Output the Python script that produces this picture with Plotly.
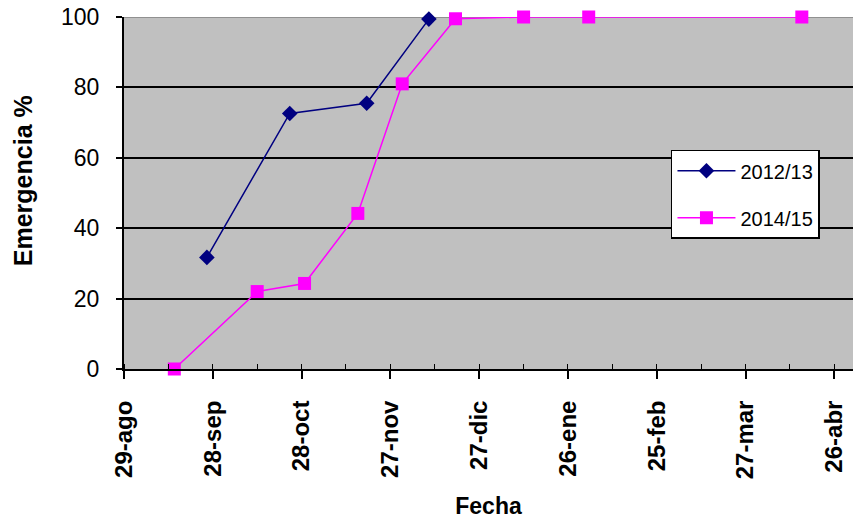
import plotly.graph_objects as go

# Data
fechas_1213 = ["2014-09-26", "2014-10-24", "2014-11-19", "2014-12-10"]
emerg_1213 = [31.7, 72.6, 75.5, 99.4]

fechas_1415 = ["2014-09-15", "2014-10-13", "2014-10-29", "2014-11-16", "2014-12-01",
               "2014-12-19", "2015-01-11", "2015-02-02", "2015-04-15"]
emerg_1415 = [0.0, 22.0, 24.3, 44.2, 81.0, 99.5, 100.0, 100.0, 100.0]

tick_vals = ["2014-08-29", "2014-09-28", "2014-10-28", "2014-11-27", "2014-12-27",
             "2015-01-26", "2015-02-25", "2015-03-27", "2015-04-26"]
tick_text = ["29-ago", "28-sep", "28-oct", "27-nov", "27-dic",
             "26-ene", "25-feb", "27-mar", "26-abr"]
y_ticks = [0, 20, 40, 60, 80, 100]

FONT = "Liberation Sans, Arial, sans-serif"

fig = go.Figure()
fig.add_trace(go.Scatter(
    x=fechas_1213, y=emerg_1213, mode="lines+markers", name="2012/13",
    legendgroup="a", cliponaxis=False,
    line=dict(color="#000080", width=1.5),
    marker=dict(symbol="diamond", size=12, color="#000080"),
))
fig.add_trace(go.Scatter(
    x=fechas_1415, y=emerg_1415, mode="lines+markers", name="2014/15",
    legendgroup="b", cliponaxis=False,
    line=dict(color="#FF00FF", width=1.5),
    marker=dict(symbol="square", size=13, color="#FF00FF"),
))

fig.add_shape(type="line", xref="paper", yref="y", x0=0, x1=1, y0=100, y1=100,
              line=dict(color="#808080", width=1.5), layer="between")

# y-axis title as annotation (placed slightly above axis centre as in the reference)
fig.add_annotation(text="Emergencia %", xref="paper", yref="paper",
                   x=-(124 - 22.5) / 729, y=(369.3 - 181) / 352,
                   xanchor="center", yanchor="middle", textangle=-90, showarrow=False,
                   font=dict(size=25, family=FONT, color="black", weight="bold"))

fig.update_layout(
    width=853, height=519,
    margin=dict(l=124, r=0, t=17, b=150),
    paper_bgcolor="white",
    plot_bgcolor="#C0C0C0",
    font=dict(family=FONT, color="black"),
    showlegend=True,
    legend=dict(
        x=0.7503, xanchor="left", y=0.623, yanchor="top",
        bgcolor="white", bordercolor="black", borderwidth=1.5,
        font=dict(size=20, family=FONT, color="black"),
        tracegroupgap=18,
        itemwidth=58,
    ),
    xaxis=dict(
        type="date",
        automargin=False,
        range=["2014-08-29", "2015-05-02 07:00"],
        tickmode="array", tickvals=tick_vals, ticktext=tick_text,
        tickangle=-90,
        tickfont=dict(size=24, family=FONT, color="black", weight="bold"),
        ticks="outside", ticklen=8, tickwidth=1.5, tickcolor="black",
        ticklabelstandoff=12,
        minor=dict(ticks="inside", ticklen=5, tickwidth=1.2, tickcolor="black",
                   tick0="2014-08-29", dtick=15 * 86400000, showgrid=False),
        showline=True, linecolor="black", linewidth=2,
        showgrid=False, zeroline=False,
        title=dict(text="Fecha", font=dict(size=23, family=FONT, color="black", weight="bold"),
                   standoff=21),
    ),
    yaxis=dict(
        range=[0, 100],
        automargin=False,
        tickmode="array", tickvals=y_ticks,
        tickfont=dict(size=23, family=FONT, color="black"),
        ticks="outside", ticklen=6, tickwidth=1.5, tickcolor="black",
        ticklabelstandoff=12,
        showline=True, linecolor="black", linewidth=2,
        showgrid=True, gridcolor="black", gridwidth=1.5,
        zeroline=False,
    ),
)

fig.write_html("out.html", config={"displayModeBar": False},
               post_script="document.body.style.margin='0';")
